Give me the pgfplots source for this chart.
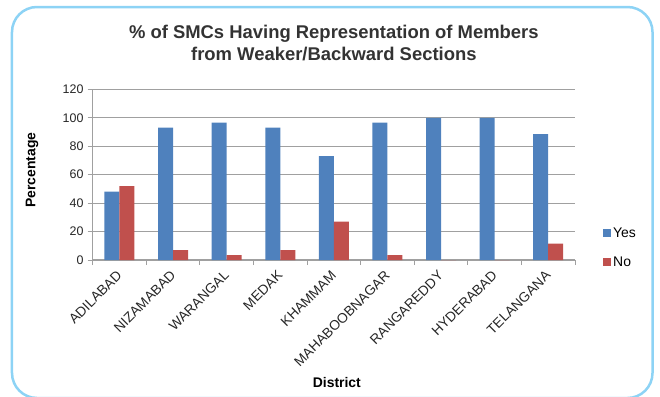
\documentclass[border=0pt]{standalone}
\usepackage{fontspec}
\setmainfont{Liberation Sans}
\usepackage{pgfplots}
\usepackage{pgfplotstable}
\pgfplotsset{compat=1.18}

\definecolor{barblue}{HTML}{4F81BD}
\definecolor{barred}{HTML}{C0504D}
\definecolor{gridgray}{HTML}{A0A0A0}
\definecolor{frameblue}{HTML}{8DD3F5}
\definecolor{titlegray}{HTML}{333333}

% Share of SMCs with members from weaker/backward sections, by district
\pgfplotstableread{
idx yes no
0 48.0 52.0
1 93.1 6.9
2 96.6 3.4
3 93.1 6.9
4 73.1 26.9
5 96.6 3.4
6 100.0 0.0
7 100.0 0.0
8 88.5 11.5
}\smcdata

\begin{document}
\begin{tikzpicture}[x=1bp,y=1bp]
\useasboundingbox (-92.7,-136) rectangle (567.3,260);
\draw[frameblue, line width=2.5bp, rounded corners=25bp] (-80.7,-138) rectangle (559.8,253);
\begin{axis}[
  at={(0,0)}, anchor=south west,
  scale only axis,
  width=482.3bp, height=170.7bp,
  ybar=0pt, bar width=15bp,
  xmin=-0.5, xmax=8.5,
  ymin=0, ymax=120,
  ytick={0,20,...,120},
  xtick={0,...,8},
  minor xtick={-0.5,0.5,...,8.5},
  xticklabels={ADILABAD,NIZAMABAD,WARANGAL,MEDAK,KHAMMAM,MAHABOOBNAGAR,RANGAREDDY,HYDERABAD,TELANGANA},
  axis x line=bottom, axis y line=left,
  axis line style={gridgray, line width=1.2bp, -},
  tick align=outside,
  major tick length=5bp, minor tick length=5bp,
  major x tick style={draw=none},
  minor x tick style={gridgray, line width=1bp},
  major y tick style={gridgray, line width=1bp},
  ymajorgrids=true,
  major grid style={gridgray, line width=1.2bp},
  /pgf/number format/assume math mode=true,
  tick label style={text=black!85},
  xticklabel style={rotate=45, anchor=east, inner sep=0pt, font=\fontsize{13.8}{15}\selectfont},
  xticklabel shift=8bp,
  yticklabel style={inner sep=0pt, font=\fontsize{12.5}{15}\selectfont},
  yticklabel shift=4bp,
  title={\% of SMCs Having Representation of Members\\from Weaker/Backward Sections},
  title style={at={(axis description cs:0.5,1)}, anchor=center, yshift=40bp,
    align=center, font=\bfseries\fontsize{18.5}{22}\selectfont, text=titlegray},
  xlabel={District},
  xlabel style={at={([xshift=3bp,yshift=-123bp]axis description cs:0.5,0)}, anchor=center,
    font=\bfseries\fontsize{14}{16}\selectfont},
  ylabel={Percentage},
  ylabel style={at={([xshift=-60.7bp,yshift=4.5bp]axis description cs:0,0.5)}, anchor=center,
    rotate=0, font=\bfseries\fontsize{14}{16}\selectfont},
  legend style={at={([xshift=28bp,yshift=12.5bp]axis description cs:1,0)}, anchor=west,
    draw=none, fill=none, inner sep=0pt, row sep=14bp,
    font=\fontsize{14}{16}\selectfont,
    /tikz/every even column/.append style={column sep=4bp}},
  legend cell align=left,
]
\addplot[fill=barblue, draw=none,
  legend image code/.code={\fill[barblue] (0bp,-4bp) rectangle (8bp,4bp);}]
  table[x=idx, y=yes] {\smcdata};
\addplot[fill=barred, draw=none,
  legend image code/.code={\fill[barred] (0bp,-4bp) rectangle (8bp,4bp);}]
  table[x=idx, y=no] {\smcdata};
\legend{Yes,No}
\end{axis}
\end{tikzpicture}
\end{document}
